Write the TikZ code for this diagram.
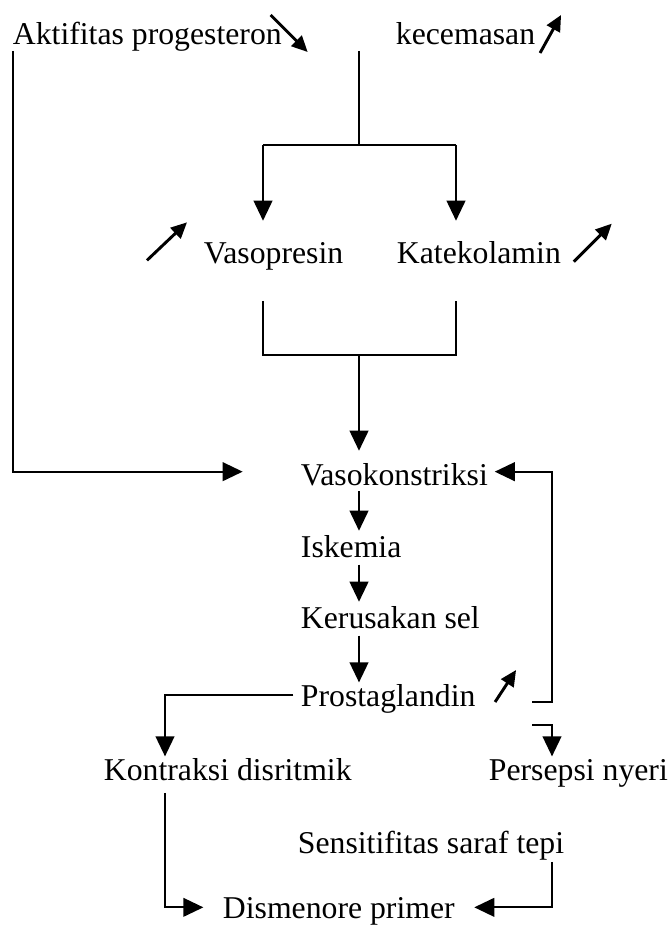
\documentclass[tikz,border=0pt]{standalone}
\usepackage{fontspec}
\setmainfont{Liberation Serif}
\usetikzlibrary{arrows.meta}

\tikzset{every picture/.style={line width=1.4pt}}
\tikzset{
  lbl/.style={anchor=base west, inner sep=0pt, text height=16pt, text depth=0pt,
    font=\fontsize{23.8}{28}\selectfont},
  arr/.style={-{Triangle[length=15pt,width=14pt]}},
  trend/.style={line width=2.2pt, -{Triangle[length=12pt,width=11pt]}}
}

\begin{document}
\begin{tikzpicture}[x=0.75pt,y=0.75pt,yscale=-1,xscale=1]
\useasboundingbox (0,0) rectangle (670,930);

% Text Node
\node[lbl] (prog) at (12,45) {Aktifitas progesteron};
% Text Node
\node[lbl] (kec) at (395,45) {kecemasan};
% Text Node
\node[lbl] (vp) at (203,263) {Vasopresin};
% Text Node
\node[lbl] (kat) at (396,263) {Katekolamin};
% Text Node
\node[lbl] (vk) at (300,485) {Vasokonstriksi};
% Text Node
\node[lbl] (isk) at (300,557) {Iskemia};
% Text Node
\node[lbl] (krs) at (300,628) {Kerusakan sel};
% Text Node
\node[lbl] (pg) at (300,706) {Prostaglandin};
% Text Node
\node[lbl] (kon) at (103,780) {Kontraksi disritmik};
% Text Node
\node[lbl] (per) at (488,780) {Persepsi nyeri};
% Text Node
\node[lbl] (sen) at (297,853) {Sensitifitas saraf tepi};
% Text Node
\node[lbl] (dis) at (222,918) {Dismenore primer};

% rails
\coordinate (xL) at (13,0);
\coordinate (xC) at (359,0);
\coordinate (xA) at (263,0);
\coordinate (xB) at (456,0);
\coordinate (xK) at (165,0);
\coordinate (xR) at (552,0);
\coordinate (split) at (359,145);
\coordinate (merge) at (359,355);
\coordinate (fb) at (532,702);
\coordinate (pb) at (532,725);
\coordinate (vkW) at ([yshift=-2pt]vk.west);
\coordinate (vkE) at ([yshift=-2pt]vk.east);

%Straight Lines
\draw[arr, shorten <=3.75pt, shorten >=43pt] (xL |- prog.south) |- (vkW);
\draw[shorten <=3.75pt] (xC |- kec.south) -- (split);
\draw (xA |- split) -- (xB |- split);
\draw[arr, shorten >=15pt] (xA |- split) -- (vp.north -| xA);
\draw[arr, shorten >=15pt] (xB |- split) -- (kat.north -| xB);
\draw[shorten <=27.75pt, shorten >=27.75pt] (vp.south -| xA) -- (xA |- merge) -- (xB |- merge) -- (kat.south -| xB);
\draw[arr, shorten >=9pt] (merge) -- (vk.north -| xC);
\draw[arr, shorten <=4pt, shorten >=3pt] (vk.south -| xC) -- (isk.north -| xC);
\draw[arr, shorten <=5pt, shorten >=3pt] (isk.south -| xC) -- (krs.north -| xC);
\draw[arr, shorten <=5pt, shorten >=1pt] (krs.south -| xC) -- (pg.north -| xC);
\draw[arr, shorten <=5pt, shorten >=1pt] (pg.west) -| (kon.north -| xK);
\draw[arr, shorten >=4.5pt] (fb) -| (xR |- vkE) -- (vkE);
\draw[arr, shorten >=1pt] (pb) -| (per.north -| xR);
\draw[arr, shorten <=9pt, shorten >=14pt] (kon.south -| xK) |- (dis.west);
\draw[arr, shorten <=6pt, shorten >=14pt] (sen.south -| xR) |- (dis.east);

% trend arrows
\draw[trend] ([xshift=-9pt,yshift=-22.5pt]prog.base east) -- ++(37,37);
\draw[trend] ([xshift=3pt,yshift=6pt]kec.base east) -- ++(21,-38);
\draw[trend] ([xshift=-42pt,yshift=-2pt]vp.base west) -- ++(40,-38);
\draw[trend] ([xshift=9pt,yshift=-1pt]kat.base east) -- ++(38,-38);
\draw[trend] ([xshift=14pt,yshift=-3pt]pg.base east) -- ++(21,-32);

\end{tikzpicture}
\end{document}
